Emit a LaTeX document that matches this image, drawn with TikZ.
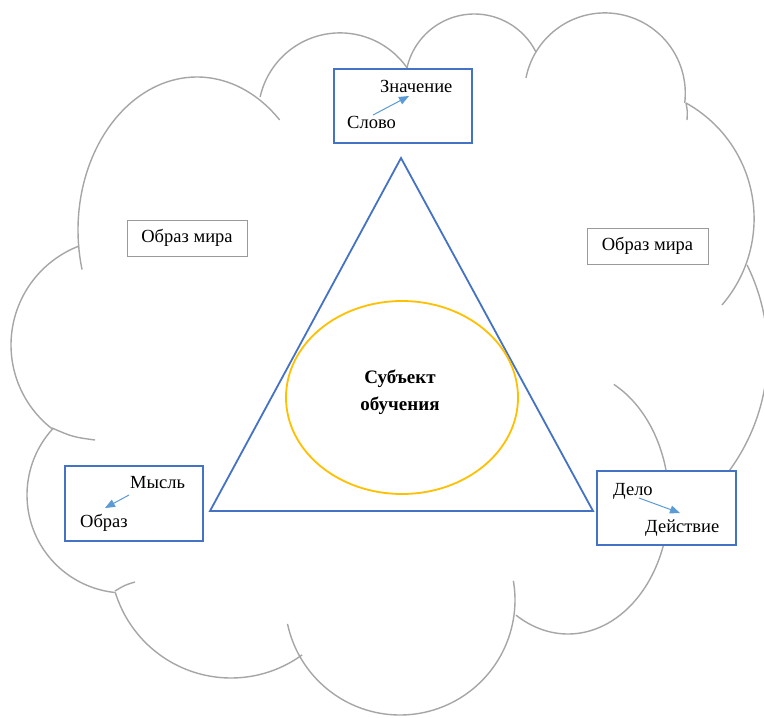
\documentclass[tikz,border=0pt]{standalone}
\usepackage{fontspec}
\setmainfont{Liberation Serif}
\usetikzlibrary{arrows.meta,shapes.geometric}
\definecolor{cloudgray}{HTML}{A6A6A6}
\definecolor{boxblue}{HTML}{4472C4}
\definecolor{arrblue}{HTML}{5B9BD5}
\definecolor{gold}{HTML}{FFC000}
\definecolor{framegray}{HTML}{9A9A9A}
% #1 cx, #2 cy, #3 rx, #4 ry, #5 start angle, #6 end angle (pixel space, y down)
\newcommand{\cloudlobe}[6]{\draw[lobe] plot[domain=#5:#6,samples=60,smooth] ({#1+#3*cos(\x)},{#2+#4*sin(\x)});}
\begin{document}
\begin{tikzpicture}[x=1pt,y=-1pt,
  lobe/.style={draw=cloudgray,line width=1.4pt},
  bluebox/.style={draw=boxblue,line width=1.8pt,fill=white,inner sep=0pt},
  graybox/.style={draw=framegray,line width=1pt,fill=white,inner sep=0pt,
    font=\fontsize{18.5}{24}\selectfont},
  txt/.style={font=\fontsize{18.5}{24}\selectfont,inner sep=0pt},
  linkarrow/.style={draw=arrblue,line width=1pt,-{Triangle[length=10pt,width=8pt]}},
  tri/.style={draw=boxblue,line width=1.8pt},
  subjring/.style={draw=gold,line width=1.8pt,ellipse,inner sep=0pt}]
\useasboundingbox (0,0) rectangle (764,718);
\fill[white] (0,0) rectangle (764,718);
\clip (0,0) rectangle (764,718);

% cloud outline lobes
\cloudlobe{197}{230}{119}{153}{165}{314}
\cloudlobe{340}{114.7}{81.8}{81.8}{192.5}{325.2}
\cloudlobe{474.3}{83}{69}{69}{192.6}{333.4}
\cloudlobe{604.9}{93.3}{80.4}{80.4}{191}{366.8}
\cloudlobe{621.9}{218.6}{132.2}{132.2}{-61}{40.8}
\cloudlobe{568.7}{353.2}{199}{199}{-26.3}{45}
\cloudlobe{568}{502}{101}{132}{-63}{121}
\cloudlobe{400}{600}{115}{115}{-9.6}{168}
\cloudlobe{231}{557}{121}{121}{54}{163}
\cloudlobe{125}{495}{98}{98}{96}{222.5}
\cloudlobe{117}{345}{106}{106}{128}{249}
% inner tails
\draw[lobe] (686,103) .. controls (687.5,111) .. (687,120);
\draw[lobe] (115,591) .. controls (125,585) .. (135,582);
\draw[lobe] (52,428) .. controls (73,437) .. (95,440);

% triangle and ellipse
\coordinate (apex) at (401,158);
\coordinate (bl) at (210,511);
\coordinate (br) at (593,511);
\draw[tri,line join=miter] (apex) -- (br) -- (bl) -- cycle;
\node[subjring,minimum width=232pt,minimum height=193pt] (ring) at (402,397.5) {};
\node[font=\bfseries\fontsize{19}{27}\selectfont,align=center,inner sep=0pt] (subj) at (400,392) {Субъект\\обучения};

% world image boxes
\node[graybox,minimum width=120pt,minimum height=36pt] (wl) at (187,238) {Образ мира};
\node[graybox,minimum width=121pt,minimum height=36pt] (wr) at (647.5,246) {Образ мира};

% top box
\node[bluebox,minimum width=138pt,minimum height=74pt] (btop) at (403,106) {};
\node[txt,anchor=base west] (znach) at (380,92) {Значение};
\node[txt,anchor=base west] (slovo) at (347,128) {Слово};
\coordinate (a1s) at (373,115);
\coordinate (a1e) at (409,96);
\draw[linkarrow] (a1s) -- (a1e);

% left box
\node[bluebox,minimum width=138pt,minimum height=75pt] (bleft) at (134,503.5) {};
\node[txt,anchor=base west] (mysl) at (130,488) {Мысль};
\node[txt,anchor=base west] (obraz) at (80,527) {Образ};
\coordinate (a2s) at (129,495);
\coordinate (a2e) at (105,508);
\draw[linkarrow] (a2s) -- (a2e);

% right box
\node[bluebox,minimum width=139pt,minimum height=74pt] (bright) at (666.5,508) {};
\node[txt,anchor=base west] (delo) at (613,495) {Дело};
\node[txt,anchor=base west] (deyst) at (645,532) {Действие};
\coordinate (a3s) at (639,498);
\coordinate (a3e) at (680,513);
\draw[linkarrow] (a3s) -- (a3e);
\end{tikzpicture}
\end{document}
